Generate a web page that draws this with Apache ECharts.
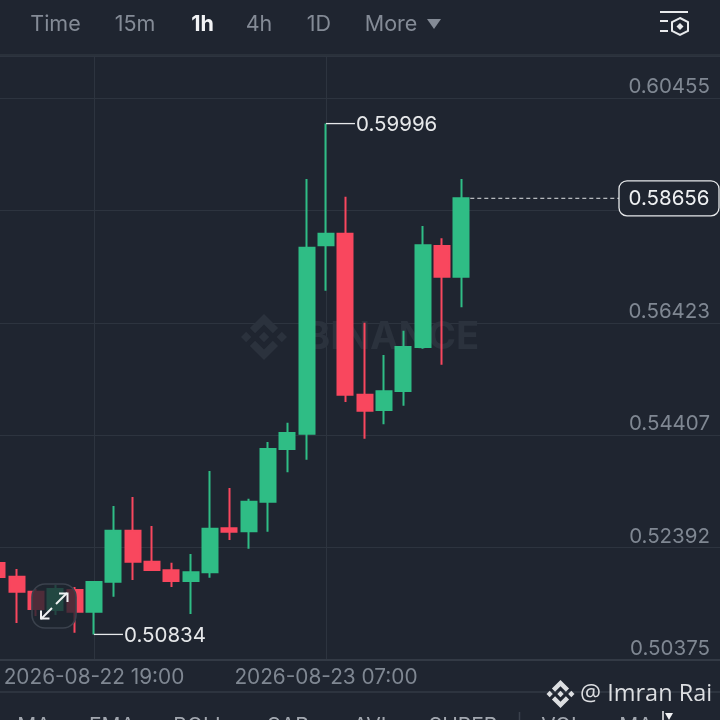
<!DOCTYPE html>
<html><head><meta charset="utf-8">
<style>html,body{margin:0;padding:0;background:#1f2530}#c{width:720px;height:720px}</style>
<script src="https://cdn.jsdelivr.net/npm/echarts@6/dist/echarts.min.js"></script>
</head><body><div id="c"></div>
<script>
// hourly categories, 2026-08-22 14:00 onward; a candle's x value is its place in this list
const categories = ['2026-08-22 14:00','2026-08-22 15:00','2026-08-22 16:00','2026-08-22 17:00','2026-08-22 18:00','2026-08-22 19:00','2026-08-22 20:00','2026-08-22 21:00','2026-08-22 22:00','2026-08-22 23:00','2026-08-23 00:00','2026-08-23 01:00','2026-08-23 02:00','2026-08-23 03:00','2026-08-23 04:00','2026-08-23 05:00','2026-08-23 06:00','2026-08-23 07:00','2026-08-23 08:00','2026-08-23 09:00','2026-08-23 10:00','2026-08-23 11:00','2026-08-23 12:00','2026-08-23 13:00','2026-08-23 14:00'];
const opens  = [.52115,.51869,.51600,.51272,.51630,.51241,.51779,.52694,.52138,.51984,.51792,.51948,.52737,.52683,.53214,.54159,.54434,.57813,.58021,.55133,.54859,.55200,.55989,.57800,.57250];
const closes = [.51864,.51600,.51290,.51648,.51241,.51774,.52694,.52138,.51989,.51792,.51948,.52730,.52676,.53214,.54159,.54446,.57770,.58021,.55133,.54846,.55194,.55989,.57813,.57250,.58656];
const lows   = [.51810,.51039,.51164,.51182,.50865,.50834,.51510,.51810,.51977,.51684,.51200,.51851,.52527,.52371,.52676,.53742,.53968,.56999,.55002,.54344,.54603,.54936,.55958,.55672,.56701];
const highs  = [.52133,.52007,.51648,.51720,.51684,.51774,.53137,.53299,.52778,.52120,.52276,.53765,.53460,.53268,.54285,.54631,.59002,.59996,.58685,.56425,.55845,.56281,.58159,.57939,.59002];
const yTickLabels = ['0.50375','0.52392','0.54407','0.56423','','0.60455'];
const xLabelled = ['2026-08-22 19:00','2026-08-23 07:00'];
const tabs = ['Time','15m','1h','4h','1D','More'];
const bottomTabs = ['MA','EMA','BOLL','SAR','AVL','SUPER','VOL','MA'];
const FONT = 'Inter';
const BG = '#1f2530', GRID = '#2d343f', LABEL = '#7f8792', UP = '#2fbd85', DOWN = '#f9475e';
const logoParts = [
  [[12,0],[19.35,7.35],[16.63,10.06],[12,5.42],[7.35,10.07],[4.64,7.36]],
  [[12,24],[4.64,16.64],[7.35,13.92],[12,18.58],[16.62,13.92],[19.34,16.64]],
  [[12,9.28],[14.72,12],[12,14.72],[9.27,12]],
  [[2.72,9.28],[5.41,12],[2.72,14.69],[0,12]],
  [[21.28,9.28],[24,12],[21.28,14.72],[18.57,12]]
];
function logo(x,y,size,fill,z){
  const s=size/24;
  return logoParts.map(pts=>({type:'polygon',z:z,shape:{points:pts.map(p=>[x+p[0]*s,y+p[1]*s])},style:{fill:fill}}));
}

const candleData = opens.map((o,i)=>[i,o,closes[i],lows[i],highs[i]]);
const hiIdx = highs.indexOf(Math.max(...highs));
const loIdx = lows.indexOf(Math.min(...lows));
const lastIdx = closes.length-1;
const fmt = v=>v.toFixed(5);
const notes = [[hiIdx,highs[hiIdx],'anno'],[loIdx,lows[loIdx],'anno'],[lastIdx,closes[lastIdx],'last']];
const xTickValues = xLabelled.map(s=>categories.indexOf(s));

function renderNote(params, api){
  const p = api.coord([api.value(0), api.value(1)]);
  const kind = notes[params.dataIndex][2];
  const txt = fmt(api.value(1));
  if(kind==='anno'){
    return {type:'group',children:[
      {type:'line',shape:{x1:p[0],y1:p[1],x2:p[0]+29,y2:p[1]},style:{stroke:'#e6e8ea',lineWidth:1.3}},
      {type:'text',style:{x:p[0]+30,y:p[1]+1,text:txt,fill:'#e6e8ea',font:'20.5px '+FONT,textVerticalAlign:'middle',textAlign:'left'}}
    ]};
  }
  return {type:'group',children:[
    {type:'line',shape:{x1:p[0]+9,y1:p[1],x2:619,y2:p[1]},style:{stroke:'#e0e2e5',lineWidth:1,lineDash:[4,3]}},
    {type:'rect',shape:{x:619,y:p[1]-17.5,width:100,height:35,r:8},style:{fill:BG,stroke:'#e6e8ea',lineWidth:1.3}},
    {type:'text',style:{x:669,y:p[1]+1,text:txt,fill:'#eef0f2',font:'20.5px '+FONT,textAlign:'center',textVerticalAlign:'middle'}}
  ]};
}

const tabX = [55.5,135,202.5,259,319,391];
const bottomX = [34,112,200,288,373,463,562,636];
const graphics = [
  {type:'rect',z:1,shape:{x:0,y:0,width:720,height:55},style:{fill:BG}},
  {type:'line',z:2,shape:{x1:0,y1:55,x2:720,y2:55},style:{stroke:'#2a313b',lineWidth:2}},
  {type:'line',z:2,shape:{x1:0,y1:660,x2:720,y2:660},style:{stroke:'#333a45',lineWidth:2}},
  {type:'line',z:2,shape:{x1:0,y1:692,x2:720,y2:692},style:{stroke:'#333a45',lineWidth:1.5}},
  // watermark
  ...logo(241,314,46,'#2b323d',1),
  {type:'text',z:1,style:{x:305,y:338,text:'BINANCE',fill:'#2b323d',font:'bold 38.2px '+FONT,textVerticalAlign:'middle',textAlign:'left'}},
  // header tabs
  ...tabs.map((t,i)=>({type:'text',z:5,style:{x:tabX[i],y:25,text:t,fill:t==='1h'?'#f2f3f5':'#848b96',font:(t==='1h'?'bold ':'')+'21.5px '+FONT,textAlign:'center',textVerticalAlign:'middle'}})),
  {type:'polygon',z:5,shape:{points:[[427,19],[441,19],[434,29]]},style:{fill:'#848b96'}},
  // header icon
  {type:'line',z:5,shape:{x1:660,y1:12,x2:688,y2:12},style:{stroke:'#e8eaec',lineWidth:2}},
  {type:'line',z:5,shape:{x1:660,y1:21,x2:668,y2:21},style:{stroke:'#e8eaec',lineWidth:2}},
  {type:'line',z:5,shape:{x1:660,y1:31,x2:668,y2:31},style:{stroke:'#e8eaec',lineWidth:2}},
  {type:'polygon',z:5,shape:{points:[[680,18],[688,22],[688,31],[680,35],[672,31],[672,22]]},style:{fill:'none',stroke:'#e8eaec',lineWidth:2}},
  {type:'polygon',z:5,shape:{points:[[680,23],[683.5,26.5],[680,30],[676.5,26.5]]},style:{fill:'#e8eaec'}},
  // expand button
  {type:'rect',z:20,shape:{x:32,y:584,width:44,height:44,r:13},style:{fill:'rgba(31,37,48,0.78)',stroke:'#3b424d',lineWidth:1.6}},
  {type:'polyline',z:21,shape:{points:[[56,604],[67,593]]},style:{stroke:'#f0f1f3',lineWidth:2,fill:'none'}},
  {type:'polyline',z:21,shape:{points:[[59,593.5],[67.5,593.5],[67.5,602]]},style:{stroke:'#f0f1f3',lineWidth:2,fill:'none'}},
  {type:'polyline',z:21,shape:{points:[[52,608],[41,619]]},style:{stroke:'#f0f1f3',lineWidth:2,fill:'none'}},
  {type:'polyline',z:21,shape:{points:[[41,610.5],[41,618.5],[49.5,618.5]]},style:{stroke:'#f0f1f3',lineWidth:2,fill:'none'}},
  // corner credit
  ...logo(546.5,680,28,'#dcdee1',30),
  {type:'text',z:30,style:{x:580,y:694,text:'@ Imran Rai',fill:'#dcdee1',font:'23.5px "Open Sans"',textAlign:'left',textVerticalAlign:'middle'}},
  // bottom tabs (cut off by the window edge)
  ...bottomTabs.map((t,i)=>({type:'text',z:5,style:{x:bottomX[i],y:727,text:t,fill:'#a3a8b0',font:'21px '+FONT,textAlign:'center',textVerticalAlign:'middle'}})),
  {type:'line',z:5,shape:{x1:519.5,y1:712,x2:519.5,y2:720},style:{stroke:'#3a414c',lineWidth:1.5}},
  {type:'line',z:5,shape:{x1:663,y1:711,x2:663,y2:720},style:{stroke:'#f0f1f3',lineWidth:1.5}},
  {type:'polygon',z:5,shape:{points:[[665,713],[673,713],[669,720]]},style:{fill:'#f0f1f3'}}
];

const chart = echarts.init(document.getElementById('c'),null,{renderer:'canvas',width:720,height:720});
chart.setOption({
  animation:false,
  backgroundColor:BG,
  grid:{left:0,right:0,top:56,height:604,containLabel:false},
  xAxis:{type:'value',min:0.14,max:37.38,scale:true,
    axisLine:{show:false},
    axisTick:{show:false,customValues:xTickValues},
    axisPointer:{show:false},
    splitLine:{show:true,lineStyle:{color:GRID,width:1}},
    axisLabel:{customValues:xTickValues,formatter:v=>categories[v],color:LABEL,fontFamily:FONT,fontSize:20.8,margin:7,hideOverlap:false,showMinLabel:true,showMaxLabel:true}},
  yAxis:{type:'value',position:'right',min:0.50375,max:0.61208,interval:0.02016,scale:true,
    axisLine:{show:false},axisTick:{show:false},
    splitLine:{show:true,lineStyle:{color:GRID,width:1}},
    axisLabel:{inside:true,margin:10,color:LABEL,fontFamily:FONT,fontSize:20.5,verticalAlign:'bottom',lineHeight:22,
      showMaxLabel:false,
      formatter:(v,i)=>yTickLabels[i]||''}},
  series:[
    {type:'candlestick',data:candleData,encode:{x:0,y:[1,2,3,4]},barWidth:15.4,silent:true,z:3,
      itemStyle:{color:UP,color0:DOWN,borderColor:UP,borderColor0:DOWN,borderWidth:2}},
    {type:'custom',data:notes.map(n=>[n[0],n[1]]),renderItem:renderNote,clip:false,silent:true,z:6,encode:{x:0,y:1}}
  ],
  graphic:graphics
});
</script></body></html>
